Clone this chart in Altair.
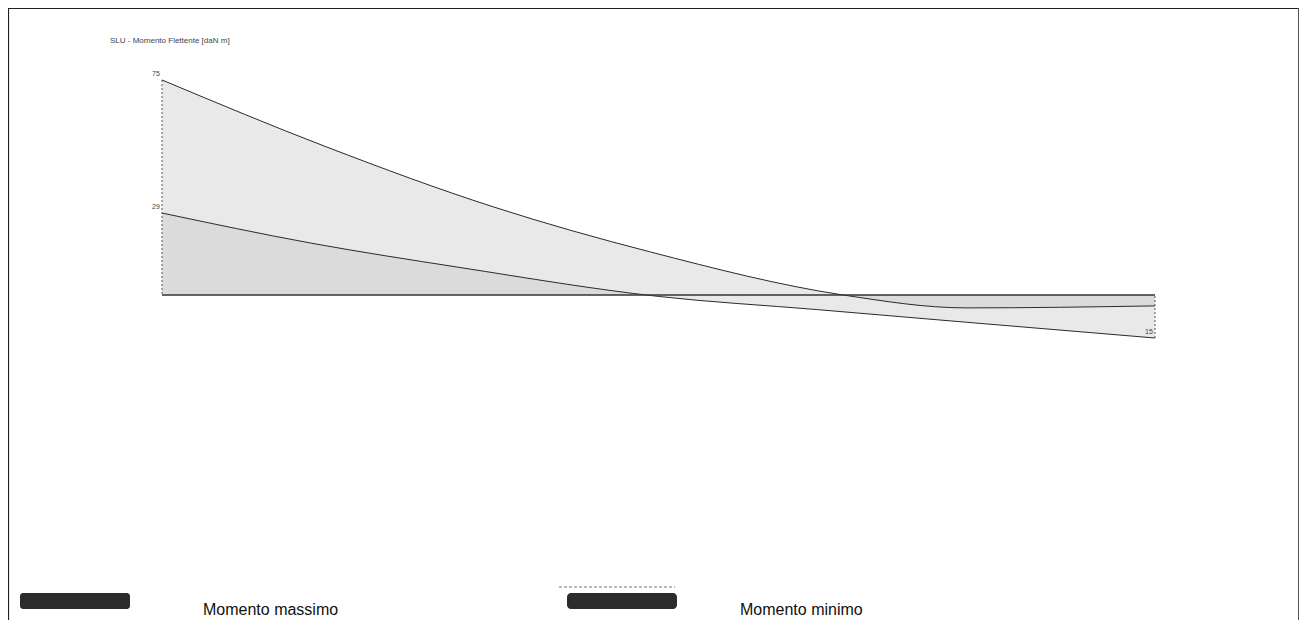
import altair as alt
import pandas as pd

# ---- data ----
TITLE = "SLU - Momento Flettente [daN m]"
SERIES = ["Momento massimo", "Momento minimo"]

x_max = [0.0, 0.83, 1.67, 2.46, 3.43, 4.05, 5.0]
m_max = [75.0, 51.6, 30.7, 15.0, 0.0, -4.5, -3.8]

x_min = [0.0, 0.75, 1.5, 2.5, 3.3, 4.05, 5.0]
m_min = [28.6, 18.1, 9.6, -0.5, -5.1, -9.5, -15.0]

beam = [0.0, 5.0]
end_labels_x = [0.0, 0.0, 5.0]
end_labels_v = [75.0, 28.6, -15.0]
end_labels_t = ["75", "29", "15"]

W, H = 1291, 612

df_max = pd.DataFrame({"x": x_max, "m": m_max})
df_min = pd.DataFrame({"x": x_min, "m": m_min})
df_beam = pd.DataFrame({"x": [beam[0]], "x2": [beam[1]], "y": [0.0]})
df_edges = pd.DataFrame({"x": [x_max[0], x_min[-1]],
                         "y": [m_max[0], m_min[-1]],
                         "y2": [0.0, 0.0]})
df_lab = pd.DataFrame({"x": end_labels_x, "m": end_labels_v, "t": end_labels_t})

xs = alt.Scale(domain=[-0.7754, 5.7251], nice=False, zero=False)
ys = alt.Scale(domain=[-(H - 287) / 2.867, 287 / 2.867], nice=False, zero=False)
X = lambda f: alt.X(f, type="quantitative", scale=xs, axis=None)
Y = lambda f: alt.Y(f, type="quantitative", scale=ys, axis=None)

area_max = alt.Chart(df_max).mark_area(color="#c4c4c4", opacity=0.38, interpolate="monotone").encode(
    x=X("x"), y=Y("m"), y2=alt.datum(0))
area_min = alt.Chart(df_min).mark_area(color="#c4c4c4", opacity=0.38, interpolate="monotone").encode(
    x=X("x"), y=Y("m"), y2=alt.datum(0))
line_max = alt.Chart(df_max).mark_line(color="#2a2a2a", strokeWidth=1, interpolate="monotone").encode(
    x=X("x"), y=Y("m"))
line_min = alt.Chart(df_min).mark_line(color="#2a2a2a", strokeWidth=1, interpolate="monotone").encode(
    x=X("x"), y=Y("m"))
zero = alt.Chart(df_beam).mark_rule(color="#333333", strokeWidth=1.5).encode(
    x=X("x"), x2="x2", y=Y("y"))
edges = alt.Chart(df_edges).mark_rule(color="#555555", strokeWidth=1, strokeDash=[2, 2]).encode(
    x=X("x"), y=Y("y"), y2="y2")
labels = alt.Chart(df_lab).mark_text(fontSize=7, color="#444444", dx=-6, dy=-6,
                                     font="Liberation Sans").encode(
    x=X("x"), y=Y("m"), text="t:N")

title = alt.Chart(df_beam).mark_text(text=TITLE, fontSize=8, color="#444444", align="left",
                                     baseline="middle", font="Liberation Sans").encode(
    x=alt.value(102), y=alt.value(33))

# frame (left, top, right)
frame_l = alt.Chart(df_beam).mark_rule(color="#222222", strokeWidth=1.2).encode(
    x=alt.value(0.5), y=alt.value(0), y2=alt.value(H))
frame_t = alt.Chart(df_beam).mark_rule(color="#222222", strokeWidth=1).encode(
    x=alt.value(0), x2=alt.value(W), y=alt.value(0.5))
frame_r = alt.Chart(df_beam).mark_rule(color="#555555", strokeWidth=1).encode(
    x=alt.value(W - 0.5), y=alt.value(0), y2=alt.value(H))

# legend (drawn manually to match original layout)
sw1 = alt.Chart(df_beam).mark_rect(color="#2b2b2b", cornerRadius=3).encode(
    x=alt.value(12), x2=alt.value(122), y=alt.value(585), y2=alt.value(601))
sw2 = alt.Chart(df_beam).mark_rect(color="#2b2b2b", cornerRadius=4).encode(
    x=alt.value(559), x2=alt.value(669), y=alt.value(585), y2=alt.value(601))
sw2_dash = alt.Chart(df_beam).mark_rule(color="#777777", strokeWidth=1, strokeDash=[3, 2]).encode(
    x=alt.value(551), x2=alt.value(667), y=alt.value(579))
lab1 = alt.Chart(df_beam).mark_text(text=SERIES[0], fontSize=16, color="#111111", align="left",
                                    baseline="alphabetic", font="Liberation Sans").encode(
    x=alt.value(195), y=alt.value(607))
lab2 = alt.Chart(df_beam).mark_text(text=SERIES[1], fontSize=16, color="#111111", align="left",
                                    baseline="alphabetic", font="Liberation Sans").encode(
    x=alt.value(732), y=alt.value(607))

chart = alt.layer(
    area_max, area_min, line_max, line_min, zero, edges, labels, title,
    frame_l, frame_t, frame_r, sw1, sw2, sw2_dash, lab1, lab2
).properties(
    width=W, height=H, padding=0, autosize=alt.AutoSizeParams(type="none")
).configure_view(stroke=None).configure(background="white")

chart.save("out.html", embed_options={"renderer": "svg", "actions": False})
